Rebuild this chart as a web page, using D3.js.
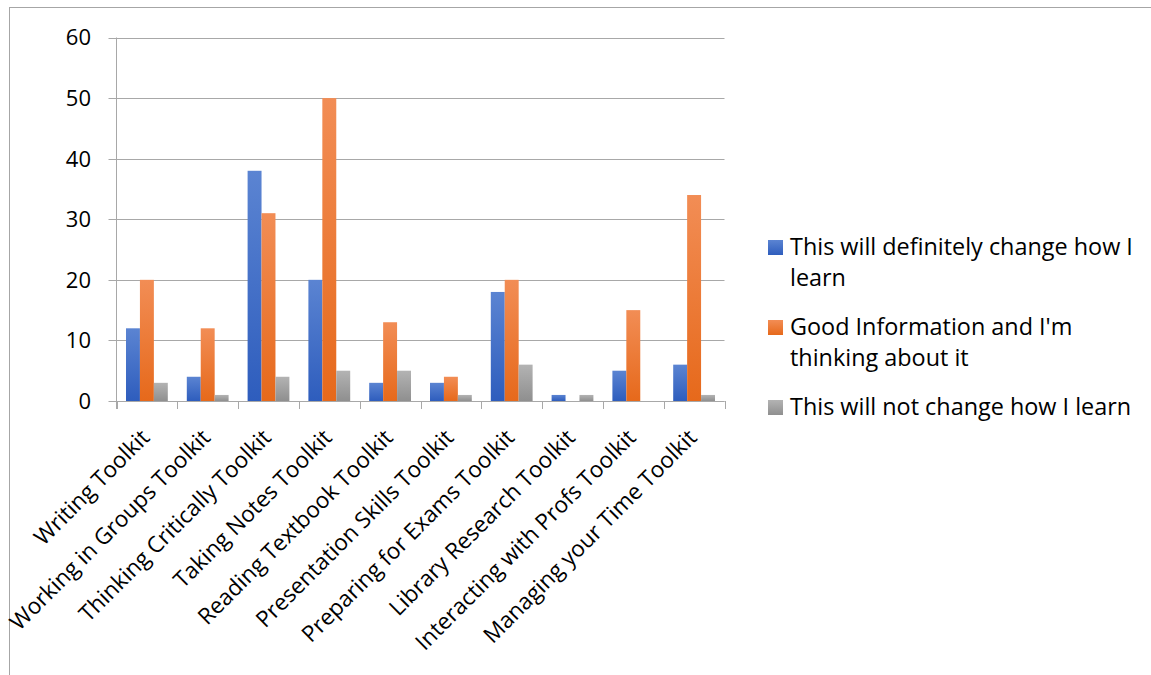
<!DOCTYPE html>
<html>
<head>
<meta charset="utf-8">
<script src="https://cdn.jsdelivr.net/npm/d3@7"></script>
<style>
  body { margin: 0; background: #fff; }
  svg { display: block; font-family: "Open Sans", Lato, sans-serif; }
</style>
</head>
<body>
<div id="chart"></div>
<script>
var categories = ["Writing Toolkit", "Working in Groups Toolkit", "Thinking Critically Toolkit",
  "Taking Notes Toolkit", "Reading Textbook Toolkit", "Presentation Skills Toolkit",
  "Preparing for Exams Toolkit", "Library Research Toolkit", "Interacting with Profs Toolkit",
  "Managing your Time Toolkit"];
var seriesNames = ["This will definitely change how I learn", "Good Information and I'm thinking about it",
  "This will not change how I learn"];
var definitely = [12, 4, 38, 20, 3, 3, 18, 1, 5, 6];
var thinking = [20, 12, 31, 50, 13, 4, 20, 0, 15, 34];
var notChange = [3, 1, 4, 5, 5, 1, 6, 1, 0, 1];
var yTicks = [0, 10, 20, 30, 40, 50, 60];

var series = [definitely, thinking, notChange];
var legendLines = [["This will definitely change how I", "learn"], ["Good Information and I'm", "thinking about it"], ["This will not change how I learn"]];
var colors = [["#5b84d2", "#2e5dbd"], ["#f28d55", "#e6691b"], ["#b3b3b3", "#8f8f8f"]];

var width = 1151, height = 675;
var plotLeft = 116.5, plotRight = 724.5, plotTop = 37.5, plotBottom = 401;

var svg = d3.select("#chart").append("svg")
  .attr("width", width).attr("height", height);

var defs = svg.append("defs");
colors.forEach(function(c, i) {
  var g = defs.append("linearGradient").attr("id", "grad" + i)
    .attr("x1", 0).attr("y1", 0).attr("x2", 0).attr("y2", 1);
  g.append("stop").attr("offset", "0%").attr("stop-color", c[0]);
  g.append("stop").attr("offset", "100%").attr("stop-color", c[1]);
});

// outer frame
svg.append("rect").attr("x", 9.5).attr("y", 7.5).attr("width", 1160).attr("height", 700)
  .style("fill", "none").style("stroke", "#a6a6a6");

var x0 = d3.scaleBand().domain(categories).range([plotLeft, plotRight]);
var x1 = d3.scaleBand().domain([0, 1, 2]).range([9.5, x0.bandwidth() - 9.5]);
var y = d3.scaleLinear().domain([0, 60]).range([plotBottom, plotTop]);

// gridlines + y ticks
svg.append("g").selectAll("line").data(yTicks).join("line")
  .attr("x1", plotLeft - 8).attr("x2", plotRight)
  .attr("y1", d => Math.round(y(d)) + 0.5).attr("y2", d => Math.round(y(d)) + 0.5)
  .style("stroke", "#a8a8a8").style("stroke-width", 1);

svg.append("g").selectAll("text").data(yTicks).join("text")
  .attr("x", 91).attr("y", d => y(d))
  .attr("dy", "0.36em")
  .attr("text-anchor", "end")
  .style("font-size", "22px").style("fill", "#000")
  .text(d => d);

// y axis line
svg.append("line").attr("x1", plotLeft).attr("x2", plotLeft).attr("y1", plotTop).attr("y2", plotBottom + 8)
  .style("stroke", "#a8a8a8");

// bars
var groups = svg.append("g").selectAll("g").data(categories).join("g")
  .attr("transform", d => "translate(" + x0(d) + ",0)");
groups.selectAll("rect").data((d, i) => series.map((s, k) => ({ k: k, v: s[i] }))).join("rect")
  .attr("x", d => x1(d.k))
  .attr("width", x1.bandwidth())
  .attr("y", d => y(d.v))
  .attr("height", d => plotBottom - y(d.v))
  .style("fill", d => "url(#grad" + d.k + ")");

// x axis line and ticks
svg.append("line").attr("x1", plotLeft).attr("x2", plotRight).attr("y1", plotBottom + 0.5).attr("y2", plotBottom + 0.5)
  .style("stroke", "#a8a8a8");
var tickXs = categories.map(c => x0(c)).concat([plotRight]);
svg.append("g").selectAll("line").data(tickXs).join("line")
  .attr("x1", d => Math.round(d) + 0.5).attr("x2", d => Math.round(d) + 0.5)
  .attr("y1", plotBottom).attr("y2", plotBottom + 8)
  .style("stroke", "#a8a8a8");

// category labels
svg.append("g").selectAll("text").data(categories).join("text")
  .attr("transform", d => "translate(" + (x0(d) + x0.bandwidth() / 2 + 4) + "," + (plotBottom + 38) + ") rotate(-45)")
  .attr("text-anchor", "end")
  .style("font-size", "22.5px").style("fill", "#000")
  .text(d => d);

// legend
var legend = svg.append("g");
seriesNames.forEach(function(name, i) {
  var gy = 255 + i * 80;
  legend.append("rect").attr("x", 768).attr("y", gy - 15).attr("width", 15).attr("height", 15)
    .style("fill", "url(#grad" + i + ")");
  legendLines[i].forEach(function(line, j) {
    legend.append("text").attr("x", 790).attr("y", gy + j * 31)
      .style("font-size", "23.4px").style("fill", "#000")
      .text(line);
  });
});
</script>
</body>
</html>
